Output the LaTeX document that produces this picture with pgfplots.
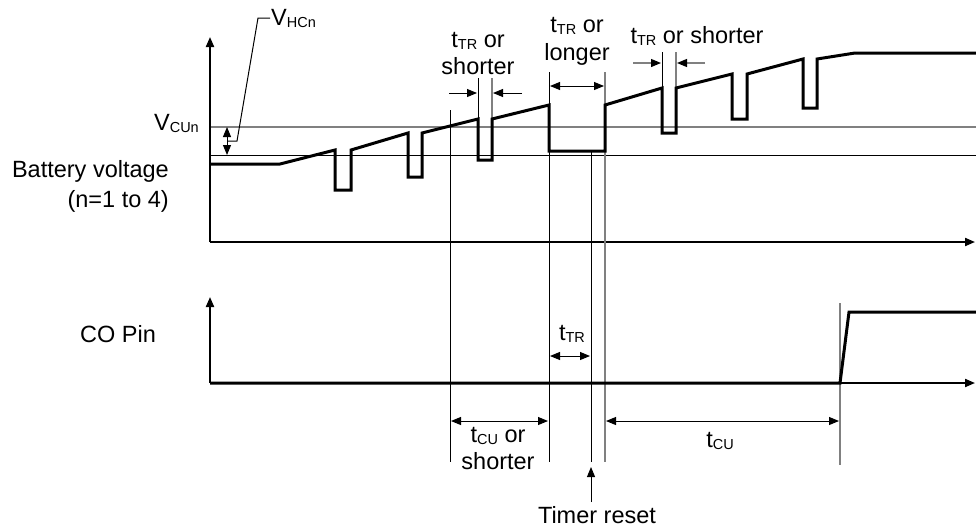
\documentclass[border=0pt]{standalone}
\usepackage{fontspec}
\setmainfont{Liberation Sans}
\usepackage{pgfplots}
\pgfplotsset{compat=1.18}
\usetikzlibrary{arrows.meta}
\newcommand\sub[1]{\raisebox{-2.5pt}{\fontsize{14.5}{14.5}\selectfont #1}}
\tikzset{
  lbl/.style={font=\fontsize{23.5}{28}\selectfont, inner sep=0pt},
  wave/.style={black, line width=3pt, line join=miter},
  ax/.style={black, line width=2pt},
  guide/.style={black, line width=1pt},
  gguide/.style={gray, line width=1.2pt},
  tip/.style={-{Triangle[length=10pt,width=8pt,color=black]}},
  dtip/.style={{Triangle[length=10pt,width=8pt,color=black]}-{Triangle[length=10pt,width=8pt,color=black]}},
}
\begin{document}
\begin{tikzpicture}
\begin{axis}[name=ax, scale only axis, width=976pt, height=528pt,
    xmin=0, xmax=976, ymin=0, ymax=528, y dir=reverse,
    hide axis, clip=false]
  % threshold lines
  \addplot[gray, line width=1.2pt] coordinates {(210,127) (976,127)};
  \addplot[guide] coordinates {(210,155) (976,155)};
  % axes
  \addplot[ax, tip] coordinates {(210,242) (210,37)};
  \addplot[ax, tip] coordinates {(210,242) (975,242)};
  \addplot[ax, tip] coordinates {(210,383) (210,297)};
  \addplot[ax, tip] coordinates {(210,383) (975,383)};
  % guide lines
  \addplot[guide] coordinates {(450,110) (450,462)};
  \addplot[guide] coordinates {(549,72) (549,462)};
  \addplot[guide] coordinates {(591,151) (591,462)};
  \addplot[gguide] coordinates {(605,72) (605,462)};
  \addplot[gguide] coordinates {(840,303) (840,465)};
  \addplot[guide] coordinates {(478,78) (478,119)};
  \addplot[gguide] coordinates {(492,78) (492,119)};
  \addplot[guide] coordinates {(662,52) (662,88)};
  \addplot[gguide] coordinates {(676,52) (676,88)};
  % battery voltage
  \addplot[wave] coordinates {
    (210,164) (280,164) (335,150) (335,190) (351,190) (351,150)
    (408,133) (408,177) (422,177) (422,133) (478,119) (478,160)
    (492,160) (492,119) (549,105) (549,151) (605,151) (605,105)
    (662,88) (662,133) (676,133) (676,88) (732,74) (732,119)
    (747,119) (747,74) (803,59) (803,108) (817,108) (817,59)
    (855,53) (976,53)};
  % CO pin
  \addplot[wave] coordinates {(210,383) (840,383) (849,312) (976,312)};
  % dimension arrows
  \addplot[guide, dtip] coordinates {(227,127) (227,155)};
  \addplot[guide] coordinates {(227,141) (237,141) (258,18) (270,18)};
  \addplot[guide, tip] coordinates {(449,93) (477,93)};
  \addplot[guide, tip] coordinates {(522,93) (493,93)};
  \addplot[guide, dtip] coordinates {(550,86) (604,86)};
  \addplot[gguide, tip] coordinates {(633,63) (661,63)};
  \addplot[gguide, tip] coordinates {(705,63) (677,63)};
  \addplot[guide, dtip] coordinates {(550,356) (590,356)};
  \addplot[guide, dtip] coordinates {(451,421) (548,421)};
  \addplot[guide, dtip] coordinates {(606,421) (839,421)};
  \addplot[guide, tip] coordinates {(591,502) (591,467)};
  % labels
  \node[lbl, anchor=base west] at (axis cs:271,25) {V\sub{HCn}};
  \node[lbl, anchor=base east] at (axis cs:199,130) {V\sub{CUn}};
  \node[lbl, anchor=base east] at (axis cs:169,177) {Battery voltage};
  \node[lbl, anchor=base east] at (axis cs:169,207) {(n=1 to 4)};
  \node[lbl, anchor=base] at (axis cs:118,342) {CO Pin};
  \node[lbl, anchor=base] at (axis cs:478,47) {t\sub{TR} or};
  \node[lbl, anchor=base] at (axis cs:478,74) {shorter};
  \node[lbl, anchor=base] at (axis cs:577,32) {t\sub{TR} or};
  \node[lbl, anchor=base] at (axis cs:577,60) {longer};
  \node[lbl, anchor=base] at (axis cs:697,43) {t\sub{TR} or shorter};
  \node[lbl, anchor=base] at (axis cs:572,340) {t\sub{TR}};
  \node[lbl, anchor=base] at (axis cs:498,442) {t\sub{CU} or};
  \node[lbl, anchor=base] at (axis cs:498,469) {shorter};
  \node[lbl, anchor=base] at (axis cs:720,447) {t\sub{CU}};
  \node[lbl, anchor=base] at (axis cs:597,523) {Timer reset};
\end{axis}
\pgfresetboundingbox
\path (ax.south west) rectangle (ax.north east);
\end{tikzpicture}
\end{document}
